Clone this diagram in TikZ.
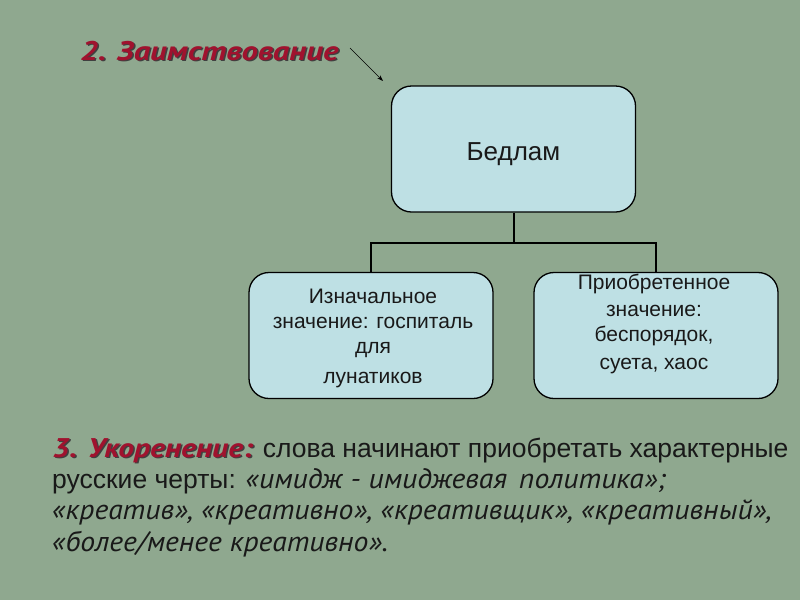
\documentclass[tikz,border=0pt]{standalone}
\usepackage{fontspec}
\setmainfont{Liberation Sans}
\newfontfamily\ptit[FakeStretch=1.06]{PT Sans}
\newfontfamily\pttitle[FakeStretch=1.21]{PT Sans}
\newfontfamily\ptlabel[FakeStretch=1.17]{PT Sans}
\usetikzlibrary{arrows.meta,calc}
\definecolor{bg}{HTML}{8FA88F}
\definecolor{boxfill}{HTML}{BEE0E4}
\definecolor{titlered}{HTML}{A0122E}
\newcommand{\itpart}[1]{{\ptit\itshape\fontsize{28pt}{28pt}\selectfont #1}}
\newcommand{\shadowed}[1]{\rlap{\color{black!75}\hspace{1.5pt}\raisebox{-1.5pt}{#1}}{\color{titlered}#1}}
\begin{document}
\begin{tikzpicture}[x=1pt,y=-1pt,
  box/.style={draw=black, line width=1.3pt, fill=boxfill, rounded corners=20pt,
    minimum width=244pt, minimum height=126pt, inner sep=0pt},
  boxtext/.style={anchor=base, inner sep=0pt, font=\fontsize{21pt}{25pt}\selectfont, text=black!90},
  conn/.style={draw=black, line width=2pt},
  para/.style={anchor=base west, inner sep=0pt, font=\fontsize{26.5pt}{28pt}\selectfont, text=black!90},
  ttl/.style={anchor=base west, inner sep=0pt, font=\pttitle\fontsize{27pt}{28pt}\selectfont\bfseries\itshape}
]
\fill[bg] (0,0) rectangle (800,600);
\useasboundingbox (0,0) rectangle (800,600);

% title with shadow
\node[ttl] (title) at (80,60) {\shadowed{2. Заимствование}};
\coordinate (arrs) at (350,48);
\coordinate (arre) at (383,81);
\draw[-{Stealth[length=6pt,width=4pt]}, line width=0.6pt] (arrs) -- (arre);

% boxes
\node[box] (top) at (513.5,149) {};
\node[boxtext, font=\fontsize{26pt}{30pt}\selectfont] (toptext) at (513.5,160) {Бедлам};
\node[box] (left) at (371,335.5) {};
\node[box] (right) at (656,335.5) {};

\node[boxtext] (l1t) at (373,303) {Изначальное};
\node[boxtext] (l2t) at (373,328) {значение: госпиталь};
\node[boxtext] (l3t) at (373,353) {для};
\node[boxtext] (l4t) at (373,383) {лунатиков};

\node[boxtext] (r1t) at (654,289) {Приобретенное};
\node[boxtext] (r2t) at (654,316) {значение:};
\node[boxtext] (r3t) at (654,341) {беспорядок,};
\node[boxtext] (r4t) at (654,369) {суета, хаос};

% connectors
\draw[conn] (top.south) -- ++(0,30) coordinate (j);
\draw[conn] (j) -| (left.north);
\draw[conn] (j) -| (right.north);

% paragraph
\node[para] (l1) at (52,457) {{\ptlabel\bfseries\itshape\fontsize{27pt}{28pt}\selectfont\shadowed{3. Укоренение:}} слова начинают приобретать характерные};
\node[para] (l2) at (52,488) {русские черты: \itpart{«имидж - имиджевая \hspace{4pt}политика»;}};
\node[para] (l3) at (52,519) {\itpart{«креатив», «креативно», «креативщик», «креативный»,}};
\node[para] (l4) at (52,551) {\itpart{«более/менее креативно».}};
\end{tikzpicture}
\end{document}
